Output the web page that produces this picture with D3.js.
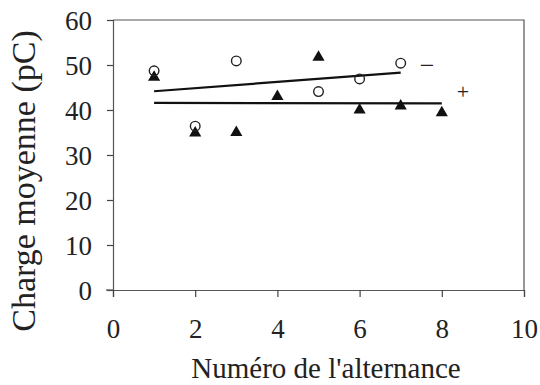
<!DOCTYPE html>
<html>
<head>
<meta charset="utf-8">
<script src="https://cdn.jsdelivr.net/npm/d3@7"></script>
<style>
  html, body { margin: 0; padding: 0; background: #fff; }
  svg { display: block; }
  svg text { font-family: "Liberation Serif", "Times New Roman", serif; fill: #222; }
</style>
</head>
<body>
<svg id="chart" width="540" height="385"></svg>
<script>
// Alternance number for each measurement
const alternanceMinus = [1, 2, 3, 5, 6, 7];
const chargeMinus = [48.7, 36.4, 50.9, 44.1, 46.9, 50.4];   // open circles, "−"
const alternancePlus = [1, 2, 3, 4, 5, 6, 7, 8];
const chargePlus = [47.3, 34.9, 35.0, 43.0, 51.7, 40.0, 40.9, 39.4]; // filled triangles, "+"

const xTicks = [0, 2, 4, 6, 8, 10];
const yTicks = [0, 10, 20, 30, 40, 50, 60];

const svg = d3.select("#chart");
const x = d3.scaleLinear().domain([0, 10]).range([113, 524]);
const y = d3.scaleLinear().domain([0, 60]).range([290, 20]);

// Frame: top and right borders
svg.append("path")
  .attr("d", `M${x(0)},${y(60)}H${x(10)}V${y(0)}`)
  .attr("fill", "none").attr("stroke", "#555").attr("stroke-width", 1.2);

// Axes
const yAxis = d3.axisLeft(y).tickValues(yTicks).tickSize(6).tickPadding(15);
const gy = svg.append("g").attr("transform", `translate(${x(0)},0)`).call(yAxis);
const xAxis = d3.axisBottom(x).tickValues(xTicks).tickSize(7).tickPadding(22);
const gx = svg.append("g").attr("transform", `translate(0,${y(0)})`).call(xAxis);

[gx, gy].forEach(g => {
  g.attr("font-family", null).attr("font-size", null);
  g.select(".domain").attr("stroke", "#555").attr("stroke-width", 1.2);
  g.selectAll(".tick line").attr("stroke", "#444").attr("stroke-width", 1.2);
  g.selectAll(".tick text")
    .attr("font-family", "Liberation Serif")
    .attr("font-size", 27).attr("fill", "#222");
});
gy.selectAll(".tick text").attr("dy", "0.34em");
// Extend the x baseline a little to the left of the y axis
gx.append("line").attr("x1", x(0) - 7).attr("x2", x(0)).attr("y1", 0).attr("y2", 0)
  .attr("stroke", "#555").attr("stroke-width", 1.2);

// Least-squares trend line
function fit(xs, ys) {
  const mx = d3.mean(xs), my = d3.mean(ys);
  const sxy = d3.sum(xs, (v, i) => (v - mx) * (ys[i] - my));
  const sxx = d3.sum(xs, v => (v - mx) ** 2);
  const b = sxy / sxx;
  return v => my + b * (v - mx);
}
const fMinus = fit(alternanceMinus, chargeMinus);
const fPlus = fit(alternancePlus, chargePlus);
const ext = a => d3.extent(a);
const line = d3.line().x(d => x(d[0])).y(d => y(d[1]));
svg.append("path")
  .attr("d", line(ext(alternanceMinus).map(v => [v, fMinus(v)])))
  .attr("stroke", "#111").attr("stroke-width", 2.2).attr("fill", "none");
svg.append("path")
  .attr("d", line(ext(alternancePlus).map(v => [v, fPlus(v)])))
  .attr("stroke", "#111").attr("stroke-width", 2.2).attr("fill", "none");

// Triangles (+)
const tri = d3.symbol().type(d3.symbolTriangle).size(64);
svg.append("g").selectAll("path")
  .data(alternancePlus.map((v, i) => [v, chargePlus[i]]))
  .join("path")
  .attr("d", tri)
  .attr("transform", d => `translate(${x(d[0])},${y(d[1])})`)
  .attr("fill", "#111");

// Open circles (−)
svg.append("g").selectAll("circle")
  .data(alternanceMinus.map((v, i) => [v, chargeMinus[i]]))
  .join("circle")
  .attr("cx", d => x(d[0])).attr("cy", d => y(d[1])).attr("r", 4.8)
  .attr("fill", "none").attr("stroke", "#222").attr("stroke-width", 1.4);

// Series labels
svg.append("text").attr("x", 427).attr("y", 74)
  .attr("text-anchor", "middle").style("font-size", "26px").attr("fill", "#111").text("−");
svg.append("text").attr("x", 463).attr("y", 99)
  .attr("text-anchor", "middle").style("font-size", "22px").attr("fill", "#111").text("+");

// Axis titles
svg.append("text").attr("x", 326).attr("y", 378)
  .attr("text-anchor", "middle").style("font-size", "29px").text("Numéro de l'alternance");
svg.append("text")
  .attr("transform", "translate(35,181) rotate(-90)")
  .attr("text-anchor", "middle").style("font-size", "34px").text("Charge moyenne (pC)");
</script>
</body>
</html>
